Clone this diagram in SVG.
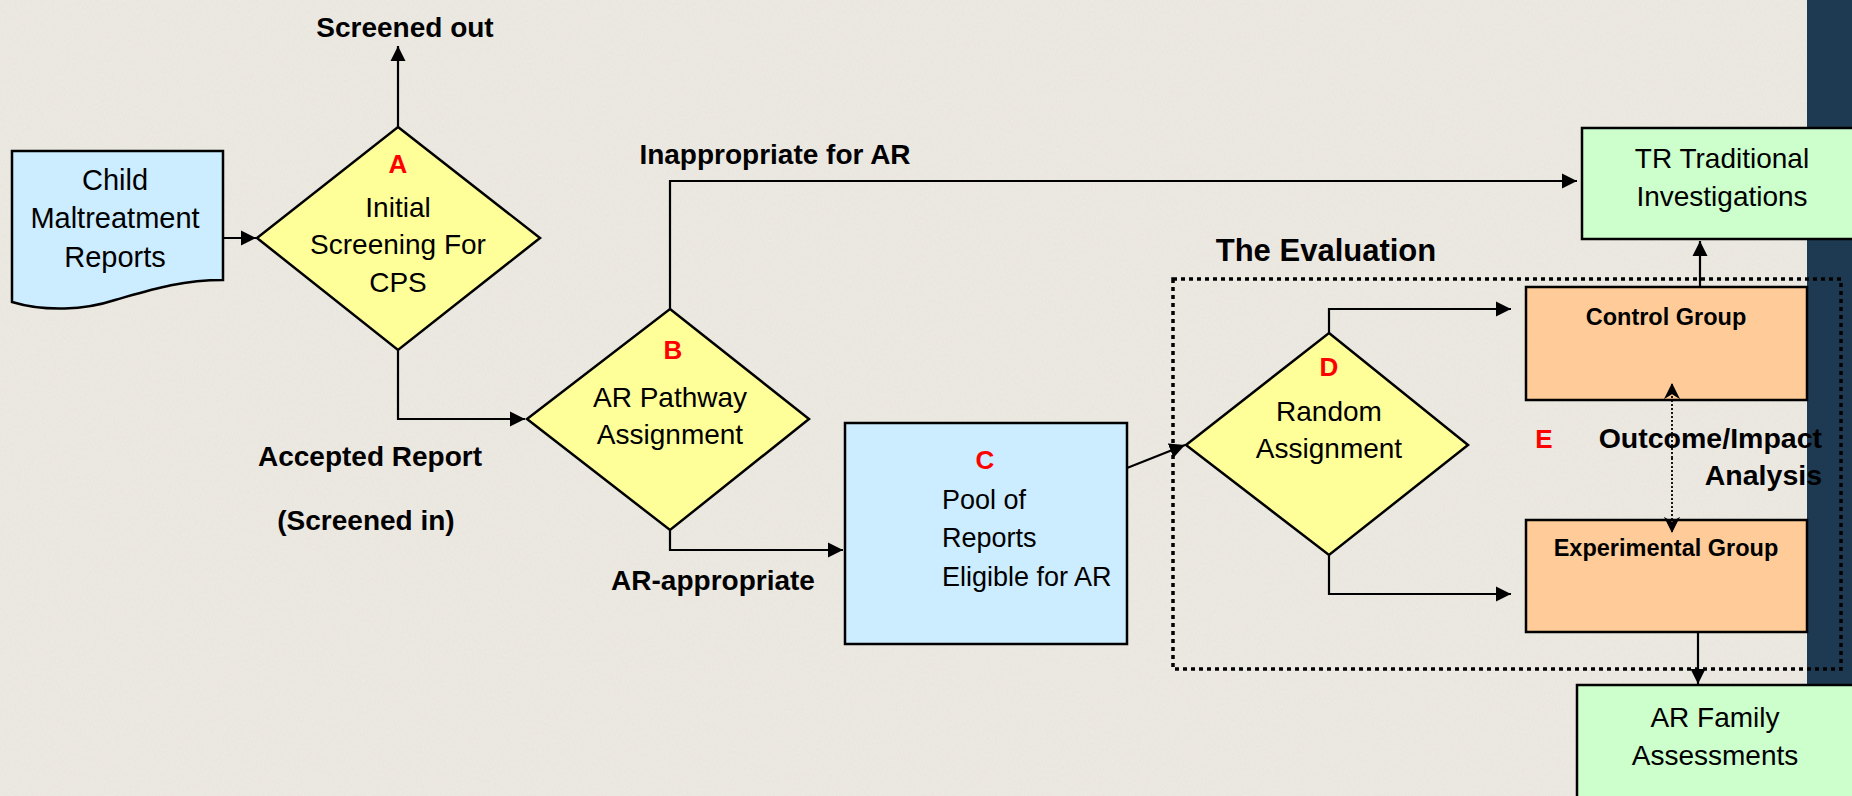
<svg xmlns="http://www.w3.org/2000/svg" width="1852" height="796" viewBox="0 0 1852 796">
<defs>
<marker id="arr" viewBox="0 0 10 10" refX="10" refY="5" markerWidth="7" markerHeight="7" markerUnits="strokeWidth" orient="auto">
<path d="M0,0 L10,5 L0,10 z" fill="#000"/>
</marker>
<marker id="stealth" viewBox="0 0 10 10" refX="10" refY="5" markerWidth="9" markerHeight="9" markerUnits="strokeWidth" orient="auto">
<path d="M0,0 L10,5 L0,10 L3,5 z" fill="#000"/>
</marker>
<filter id="linen" x="0" y="0" width="100%" height="100%">
<feTurbulence type="fractalNoise" baseFrequency="0.9 0.35" numOctaves="2" seed="3" result="n"/>
<feColorMatrix in="n" type="matrix" values="0 0 0 0 0.55  0 0 0 0 0.53  0 0 0 0 0.48  0 0 0 0.18 0" result="c"/>
<feComposite in="c" in2="SourceGraphic" operator="in" result="m"/>
<feMerge><feMergeNode in="SourceGraphic"/><feMergeNode in="m"/></feMerge>
</filter>
<style>
.bg{fill:#EEEBE4}
.shape{stroke:#000;stroke-width:2.5}
.blue{fill:#CCECFF}
.yel{fill:#FFFF99}
.grn{fill:#CCFFCC}
.org{fill:#FFCC99}
.t{font-family:"Liberation Sans",Arial,sans-serif;font-size:28px;fill:#000;text-anchor:middle}
.lb{font-family:"Liberation Sans",Arial,sans-serif;font-size:28px;font-weight:bold;fill:#000;text-anchor:middle}
.red{font-family:"Liberation Sans",Arial,sans-serif;font-size:26px;font-weight:bold;fill:#FF0000;text-anchor:middle}
.grp{font-family:"Liberation Sans",Arial,sans-serif;font-size:23.5px;font-weight:bold;fill:#000;text-anchor:middle}
.con{fill:none;stroke:#000;stroke-width:2.2}
</style>
</defs>
<rect class="bg" x="0" y="0" width="1807" height="796" filter="url(#linen)"/>
<rect x="1807" y="0" width="45" height="796" fill="#1E3A52"/>

<g id="evaluation">
<rect x="1173" y="279" width="668" height="390" fill="none" stroke="#000" stroke-width="3.5" stroke-dasharray="4 4"/>
<text class="lb" x="1326" y="261" style="font-size:31px">The Evaluation</text>
</g>

<g id="reports">
<path class="shape blue" d="M12,151 H223 V280 C180,280 150,290 115,300 C85,310 45,312 12,302 Z"/>
<text class="t" x="115" y="190" style="font-size:29px">Child</text>
<text class="t" x="115" y="228" style="font-size:29px">Maltreatment</text>
<text class="t" x="115" y="267" style="font-size:29px">Reports</text>
</g>

<g id="nodeA">
<polygon class="shape yel" points="398,127 540,238 398,350 257,238"/>
<text class="red" x="398" y="173">A</text>
<text class="t" x="398" y="217">Initial</text>
<text class="t" x="398" y="254">Screening For</text>
<text class="t" x="398" y="292">CPS</text>
</g>

<g id="nodeB">
<polygon class="shape yel" points="670,309 809,419 670,530 527,419"/>
<text class="red" x="673" y="359">B</text>
<text class="t" x="670" y="407">AR Pathway</text>
<text class="t" x="670" y="444">Assignment</text>
</g>

<g id="nodeC">
<rect class="shape blue" x="845" y="423" width="282" height="221"/>
<text class="red" x="985" y="469">C</text>
<text class="t" x="942" y="509" style="text-anchor:start;font-size:27px">Pool of</text>
<text class="t" x="942" y="547" style="text-anchor:start;font-size:27px">Reports</text>
<text class="t" x="942" y="586" style="text-anchor:start;font-size:27px">Eligible for AR</text>
</g>

<g id="nodeD">
<polygon class="shape yel" points="1329,333 1468,445 1329,555 1186,445"/>
<text class="red" x="1329" y="376">D</text>
<text class="t" x="1329" y="421">Random</text>
<text class="t" x="1329" y="458">Assignment</text>
</g>

<g id="control">
<rect class="shape org" x="1526" y="287" width="281" height="113"/>
<text class="grp" x="1666" y="325">Control Group</text>
</g>

<g id="experimental">
<rect class="shape org" x="1526" y="520" width="281" height="112"/>
<text class="grp" x="1666" y="556">Experimental Group</text>
</g>

<g id="nodeE">
<text class="red" x="1544" y="448">E</text>
<text class="lb" x="1822" y="448" style="text-anchor:end;font-size:28.5px">Outcome/Impact</text>
<text class="lb" x="1822" y="485" style="text-anchor:end;font-size:28.5px">Analysis</text>
</g>

<g id="tr">
<rect class="shape grn" x="1582" y="128" width="280" height="111"/>
<text class="t" x="1722" y="168">TR Traditional</text>
<text class="t" x="1722" y="206">Investigations</text>
</g>

<g id="arfamily">
<rect class="shape grn" x="1577" y="685" width="290" height="120"/>
<text class="t" x="1715" y="727">AR Family</text>
<text class="t" x="1715" y="765">Assessments</text>
</g>

<g id="connectors">
<line class="con" x1="398" y1="127" x2="398" y2="46" marker-end="url(#arr)"/>
<line class="con" x1="223" y1="238" x2="256" y2="238" marker-end="url(#arr)"/>
<polyline class="con" points="398,350 398,419 525,419" marker-end="url(#arr)"/>
<polyline class="con" points="670,309 670,181 1577,181" marker-end="url(#arr)"/>
<polyline class="con" points="670,530 670,550 843,550" marker-end="url(#arr)"/>
<line class="con" x1="1127" y1="468" x2="1185" y2="445" marker-end="url(#arr)"/>
<polyline class="con" points="1329,333 1329,309 1511,309" marker-end="url(#arr)"/>
<polyline class="con" points="1329,555 1329,594 1511,594" marker-end="url(#arr)"/>
<line class="con" x1="1700" y1="287" x2="1700" y2="241" marker-end="url(#arr)"/>
<line class="con" x1="1698" y1="632" x2="1698" y2="684" marker-end="url(#arr)"/>
<line x1="1672" y1="458" x2="1672" y2="383" fill="none" stroke="#000" stroke-width="1.8" stroke-dasharray="2 2" marker-end="url(#stealth)"/>
<line x1="1672" y1="458" x2="1672" y2="533" fill="none" stroke="#000" stroke-width="1.8" stroke-dasharray="2 2" marker-end="url(#stealth)"/>
<text class="lb" x="405" y="37">Screened out</text>
<text class="lb" x="370" y="466">Accepted Report</text>
<text class="lb" x="366" y="530">(Screened in)</text>
<text class="lb" x="775" y="164">Inappropriate for AR</text>
<text class="lb" x="713" y="590">AR-appropriate</text>
</g>
</svg>
